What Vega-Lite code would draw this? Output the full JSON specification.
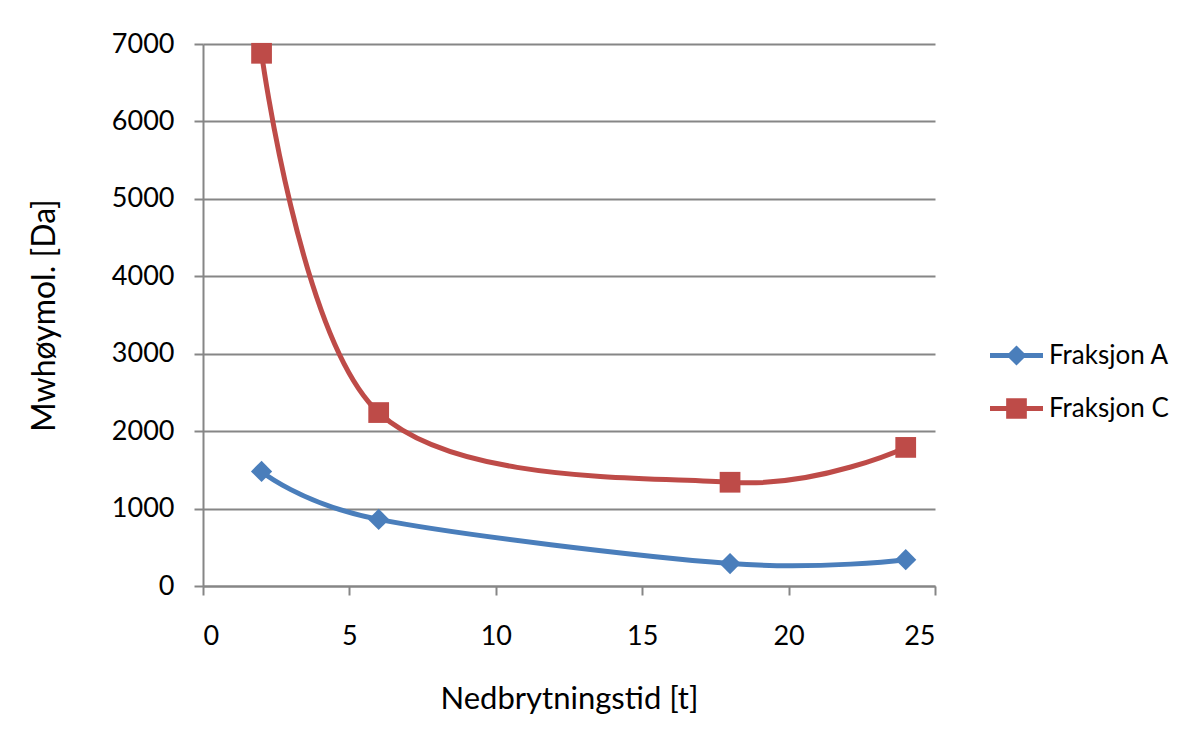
{
  "$schema": "https://vega.github.io/schema/vega-lite/v6.json",
  "width": 732,
  "height": 542,
  "autosize": {"type": "none"},
  "padding": {"left": 203, "top": 44, "right": 269, "bottom": 159},
  "background": "white",
  "config": {
    "font": "Lato",
    "view": {"stroke": null},
    "axis": {"labelFont": "Lato", "titleFont": "Lato", "labelColor": "black", "titleColor": "black", "titleFontWeight": "normal", "domainColor": "#868686", "tickColor": "#868686", "gridColor": "#868686", "domainWidth": 2, "tickWidth": 2, "gridWidth": 2}
  },
  "data": {
    "values": [
      {"t": 2, "mw": 1480, "serie": "Fraksjon A"},
      {"t": 6, "mw": 860, "serie": "Fraksjon A"},
      {"t": 18, "mw": 290, "serie": "Fraksjon A"},
      {"t": 24, "mw": 340, "serie": "Fraksjon A"},
      {"t": 2, "mw": 6880, "serie": "Fraksjon C"},
      {"t": 6, "mw": 2240, "serie": "Fraksjon C"},
      {"t": 18, "mw": 1340, "serie": "Fraksjon C"},
      {"t": 24, "mw": 1790, "serie": "Fraksjon C"}
    ]
  },
  "encoding": {
    "x": {"field": "t", "type": "quantitative", "scale": {"domain": [0, 25]},
      "axis": {"values": [0, 5, 10, 15, 20, 25], "grid": false, "tickSize": 9, "labelFontSize": 27, "labelPadding": 28, "title": "Nedbrytningstid [t]", "titleFontSize": 31, "titlePadding": 35}},
    "y": {"field": "mw", "type": "quantitative", "scale": {"domain": [0, 7000]},
      "axis": {"values": [0, 1000, 2000, 3000, 4000, 5000, 6000, 7000], "format": "d", "tickSize": 9, "labelFontSize": 27, "labelPadding": 20, "title": "Mwhøymol. [Da]", "titleFontSize": 32, "titlePadding": 50}}
  },
  "resolve": {"scale": {"color": "independent", "shape": "independent"}},
  "layer": [
    {
      "mark": {"type": "line", "interpolate": "cardinal", "strokeWidth": 5},
      "encoding": {
        "color": {"field": "serie", "type": "nominal", "scale": {"domain": ["Fraksjon A", "Fraksjon C"], "range": ["#4a7ebb", "#be4b48"]}, "legend": null}
      }
    },
    {
      "transform": [{"filter": "datum.serie == 'Fraksjon A'"}],
      "mark": {"type": "point", "shape": "diamond", "filled": true, "opacity": 1, "size": 450, "color": "#4a7ebb"}
    },
    {
      "transform": [{"filter": "datum.serie == 'Fraksjon C'"}],
      "mark": {"type": "point", "shape": "square", "filled": true, "opacity": 1, "size": 430, "color": "#be4b48"}
    },
    {
      "mark": {"type": "point", "filled": true, "opacity": 0, "size": 10},
      "encoding": {
        "color": {"field": "serie", "type": "nominal", "scale": {"domain": ["Fraksjon A", "Fraksjon C"], "range": ["#4a7ebb", "#be4b48"]},
          "legend": {"title": null, "orient": "none", "legendX": 787, "legendY": 285, "symbolSize": 2809, "symbolOpacity": 1, "symbolStrokeWidth": 0, "labelFontSize": 26, "labelFont": "Lato", "labelColor": "black", "labelOffset": 6, "rowPadding": 13, "labelLimit": 300}},
        "shape": {"field": "serie", "type": "nominal",
          "scale": {"domain": ["Fraksjon A", "Fraksjon C"], "range": [
            "M-1,-0.095H1V0.095H-1Z M0,-0.38L0.38,0L0,0.38L-0.38,0Z",
            "M-1,-0.095H1V0.095H-1Z M-0.39,-0.39H0.39V0.39H-0.39Z"
          ]},
          "legend": {"title": null, "orient": "none", "legendX": 787, "legendY": 285, "symbolSize": 2809, "symbolOpacity": 1, "symbolStrokeWidth": 0, "labelFontSize": 26, "labelFont": "Lato", "labelColor": "black", "labelOffset": 6, "rowPadding": 13, "labelLimit": 300}}
      }
    }
  ]
}
